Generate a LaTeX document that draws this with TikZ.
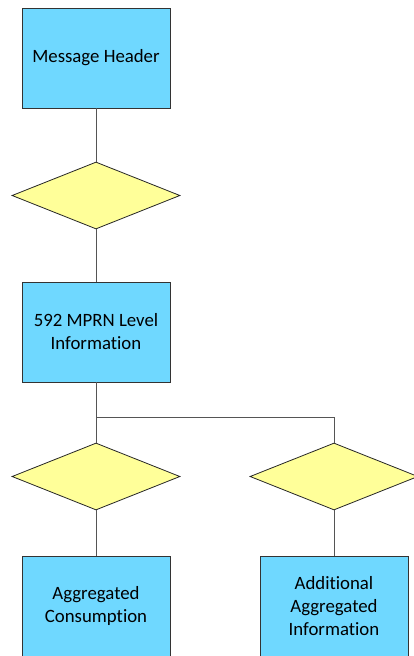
\documentclass[tikz,border=0pt]{standalone}
\usepackage{fontspec}
\setmainfont[Ligatures=NoCommon]{Carlito}
\usepackage{tikz}
\usetikzlibrary{shapes.geometric}
\usetikzlibrary{positioning, calc}
\definecolor{boxblue}{RGB}{111,216,255}
\definecolor{diayellow}{RGB}{255,255,153}
\definecolor{linegray}{RGB}{85,85,85}

\begin{document}
\begin{tikzpicture}[x=1pt, y=-1pt,
    msgbox/.style={draw=black!80, fill=boxblue, line width=0.8pt,
        minimum width=148pt, minimum height=100pt, inner sep=0pt,
        align=center, font=\fontsize{18.8}{23}\selectfont},
    choice/.style={diamond, draw=black!85, fill=diayellow, line width=0.8pt,
        minimum width=168pt, minimum height=67pt, aspect=2.5, inner sep=0pt},
    link/.style={draw=linegray, line width=0.9pt}]
\useasboundingbox (0,0) rectangle (414,656);

\node[msgbox] (header) at (96,58) {Message Header};
\node[choice] (c1) at (96,195.5) {};
\node[msgbox] (mprn) at (96,332) {592 MPRN Level\\Information};
\node[choice] (c2) at (96,476.5) {};
\node[choice] (c3) at (334,476.5) {};
\node[msgbox] (aggcons) at (96,606) {Aggregated\\Consumption};
\node[msgbox] (addinfo) at (334,606) {Additional\\Aggregated\\Information};

\coordinate (split) at (96,417);

\draw[link] (header) -- (c1);
\draw[link] (c1) -- (mprn);
\draw[link] (mprn) -- (c2);
\draw[link] (split) -| (c3.north);
\draw[link] (c2) -- (aggcons);
\draw[link] (c3) -- (addinfo);

\end{tikzpicture}
\end{document}
